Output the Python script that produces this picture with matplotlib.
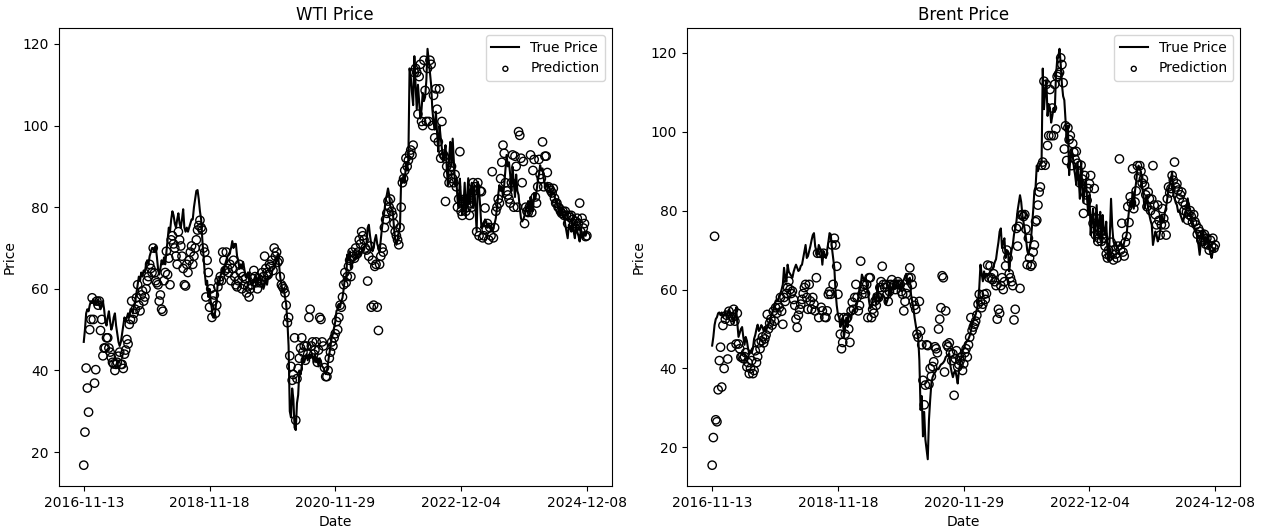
import numpy as np
import matplotlib
matplotlib.use("Agg")
import matplotlib.pyplot as plt

tick_labels = ["2016-11-13", "2018-11-18", "2020-11-29", "2022-12-04", "2024-12-08"]

wti_true = [
    47, 50, 54, 55, 54.5, 56, 57, 56.5, 57.5, 56, 57, 56.5, 57.5, 56, 55, 56, 57, 55, 52, 51,
    53, 54.5, 52, 50, 51, 53, 54, 51, 49, 47, 46, 47, 49, 51, 53, 52, 53, 54, 53, 55,
    55, 54, 56, 57, 59, 61, 63, 62, 64, 63, 64.5, 64, 66, 67, 66, 68, 69, 70, 70, 69,
    70.5, 68, 65, 63.5, 65, 67, 66, 67.7, 66, 69, 72, 75, 74, 77, 79, 78, 76, 75, 77, 78.5,
    76, 75, 77, 79.5, 75, 74, 75, 74, 75, 76, 77, 77, 80, 82, 84, 84.2, 82, 79, 77, 72,
    68, 64, 61, 62, 58, 60, 57, 55, 53, 52.9, 55, 58, 62, 61, 63, 64, 65, 64, 66, 67,
    68, 68.5, 69, 70, 71.7, 70, 71, 71, 68, 67, 64.9, 66, 65, 66.6, 65, 63, 62.7, 64, 64, 62,
    61.5, 61, 62, 63, 62.5, 61, 63, 63.5, 62, 61, 60, 61, 62.5, 61, 63, 62.5, 63, 64, 64.9, 65,
    66, 66.8, 68.5, 66, 63, 61, 59.4, 60, 58, 56.2, 52, 46, 30, 28.5, 35.6, 33, 26, 25.4, 32, 34,
    40, 39, 41, 43.2, 42, 43, 44, 42.5, 43.9, 43, 44, 43.5, 42, 44, 42, 43, 41, 43, 42, 41,
    40.7, 40, 39.1, 40, 42, 43.9, 46, 48, 49, 50.5, 52, 54.6, 55, 56.2, 55.5, 57, 57.8, 60, 62.7, 62,
    68.4, 67, 69.2, 65, 66, 66.8, 67, 68, 67.5, 68.5, 69.2, 68, 69, 70, 69.5, 70.8, 71, 74.9, 75.7, 73,
    71, 69.2, 70, 72, 73.2, 71, 70, 69.2, 72, 75, 77.3, 79, 81.8, 83, 84.6, 83, 80, 79.5, 78.9, 75,
    72, 70.8, 72, 74, 75, 87.1, 86, 88, 86, 91.1, 89, 92, 114, 112, 108, 105, 117, 110, 104, 110,
    106, 101.7, 104, 108, 106, 107, 111, 118.8, 116, 113, 110, 104, 101, 99, 103.4, 98, 93.6, 100, 97, 94.4,
    91.1, 93, 95.2, 90, 85.4, 92, 96, 90, 96.8, 91, 85.4, 87, 82, 79.8, 87, 82, 78.2, 80, 86, 79,
    82, 87.1, 81, 84, 86, 79.8, 85.4, 80, 74.1, 86.2, 84.6, 80, 74.9, 76, 75.5, 77, 76.5, 75, 76, 74.9,
    75.5, 74.1, 75, 76, 77.3, 80, 83, 85.4, 84, 85, 82.5, 85.4, 89, 92.8, 90, 91, 88, 83.9, 89.9, 86,
    82.5, 88, 84, 83, 79.8, 77.3, 76.5, 77, 78, 79, 80, 81.5, 78, 82.5, 80, 79, 83.5, 82, 84, 86.3,
    88, 90.3, 89, 89.5, 87, 85.4, 85, 86, 85, 84.6, 82.5, 84, 83.5, 83, 80.9, 81.5, 80, 78.2, 80, 79,
    77.5, 78, 75.7, 74, 72.4, 75.7, 75, 74, 77, 74, 72.4, 75.7, 74, 73, 71.6, 74.9, 73, 72.4, 74, 73,
    74,
]

wti_pred = [
    16.8, 24.9, 40.6, 35.7, 29.8, 50, 52.5, 57.8, 52.5, 36.9, 40.2, 57, 56, 57, 49.8, 52.5, 43.6, 45.5, 45.5, 48,
    48, 45.5, 44.5, 43.2, 42, 41.6, 40, 41.5, 42, 43.5, 44.5, 41.5, 41.5, 40.5, 44, 45, 47.6, 46.5, 51.3, 52.5,
    57, 52.5, 54, 55, 57.8, 61, 56, 54.6, 58.5, 59.5, 57, 58, 60, 62, 63, 66, 65, 64, 70, 63.9,
    62, 61.5, 61, 57, 58.5, 55, 54.5, 62, 64, 69.2, 63.5, 67.5, 61, 72, 73, 71, 70, 68, 66, 74,
    72, 70.5, 68, 65, 61, 60.7, 66, 64, 67, 69, 70.5, 66, 68, 70, 72, 74.4, 75.5, 76.8, 75, 74.4,
    70, 69, 58, 67, 64, 55.5, 60, 53, 57, 58.5, 54, 56, 60.5, 62, 63, 62, 69, 67, 64.5, 69,
    65, 64, 66, 62, 65, 67, 63, 61, 60.5, 62, 66, 64, 60, 63, 61, 62.5, 59, 60.5, 58, 60,
    61, 62.5, 64.5, 63, 61.5, 60, 62.5, 61.5, 62, 64, 63, 68, 65, 64, 63.5, 66, 65.5, 67, 64.5, 70,
    68, 69, 66.5, 67, 63, 61, 60.5, 60, 59, 56, 51.7, 53, 43.6, 41, 37.6, 39, 48, 27.8, 38, 40.5,
    43, 45.5, 48, 44.5, 46, 42.5, 46, 44, 53, 55, 46, 47, 44, 45, 47, 42, 45, 53, 52.5, 47,
    46, 40.7, 38.5, 38.5, 40, 43, 44.5, 47, 46, 48, 49, 52, 50, 53, 56, 55.5, 58, 61, 64, 61.5,
    63, 65.5, 67, 63, 69, 68, 67.5, 70, 68.5, 69, 72, 71, 74, 73, 72, 70, 69.5, 61.9, 68, 70.5,
    55.5, 67, 56, 65.5, 66, 55.5, 49.8, 66, 68, 70, 69, 75, 77, 78.5, 81.5, 80, 82, 79, 78, 76,
    74, 73, 72, 70.8, 75, 80, 86, 87, 89, 92, 90, 91.5, 93, 94, 92.8, 95.2, 113, 114, 113, 102.8,
    112, 115, 101, 100, 116, 108.6, 101, 114, 101, 116, 115, 100, 107.4, 97, 109, 104, 96, 109, 92, 101,
    93, 92.5, 81.4, 90, 88, 86, 89, 90, 87, 86, 88, 85, 80, 82, 93.6, 79, 78, 81, 82, 79,
    80, 82, 78, 81, 80, 86, 84, 85, 74, 86, 73, 84, 83.8, 72.5, 73, 79.8, 74.5, 76, 72, 75,
    73, 88.7, 72.5, 75, 79, 80, 82, 81, 87, 91, 95.2, 93.2, 86, 84, 83, 82, 81, 86, 92.8, 80,
    92.5, 90, 80, 98.5, 97.6, 92, 86, 91.2, 76, 80, 79, 78.7, 80, 92.8, 78.7, 89, 91.7, 82.5, 81, 85,
    91.7, 88, 87, 96, 85, 92.5, 92.5, 88.5, 85, 84.6, 84, 83.5, 84.6, 82.2, 81, 81, 80, 79.8, 79, 78.5,
    79, 78, 79, 78, 76, 78, 77.5, 78, 77, 76, 75, 76.5, 77.3, 76, 81, 74, 77.3, 74.9, 76, 72.8,
    73,
]

brent_true = [
    45.8, 48, 51, 52.5, 53, 54, 54.2, 53.5, 54.2, 53, 53.5, 54.5, 53, 54, 55, 53.5, 54, 53, 51.5, 53,
    55.4, 51.5, 48, 49, 50, 50.5, 48, 46, 48, 47, 45, 43.7, 44.5, 44, 45, 47.5, 48.5, 50, 51.1, 49.5,
    50, 51, 50.5, 49.5, 50.5, 49.5, 50.5, 51.2, 52, 53, 54, 55, 56, 57.1, 57.5, 57, 58.5, 59, 60, 61.3,
    65.5, 63, 62, 66.3, 64.5, 64, 63.5, 63, 64.5, 65.5, 66.3, 65.5, 64.7, 65, 66, 66.3, 68, 69.7, 71.3, 68,
    68.5, 69.7, 71, 72.5, 73.8, 74.3, 71, 69.7, 68.8, 71.3, 70.5, 69.7, 66.3, 69.7, 68.5, 68, 70, 72, 74.3, 74,
    70.5, 68, 65.5, 59.6, 56, 53.7, 52.9, 50.5, 51.5, 52.9, 47.9, 50.5, 52.9, 50.5, 54, 53.5, 52.9, 54.4, 55, 54.5,
    55.2, 56.5, 58, 59.6, 61, 63.8, 63, 62.1, 63, 61.5, 59.6, 57, 55.2, 56, 57, 58.8, 57.5, 56.2, 61, 58.5,
    57, 58, 58.8, 58.5, 58, 56.2, 57, 58, 60.5, 58.8, 60, 61.3, 61, 60.5, 61.3, 62.1, 61.3, 60.5, 59.6, 62.1,
    62.5, 63.1, 64, 61.3, 62.5, 63, 58.8, 57, 55.4, 52.9, 51, 49, 47.9, 42, 29.5, 33, 22.8, 29, 22, 19.5,
    17, 27, 32, 36.2, 37.8, 38.5, 39, 39.5, 40, 39.8, 40.5, 41, 41.2, 41.5, 42, 42.9, 43.2, 43.5, 43.7, 40.5,
    39, 37.8, 39, 39.5, 38, 36.2, 39.5, 41, 42.9, 44.5, 45, 46, 46.6, 47, 47.5, 48.3, 49.5, 51.2, 52, 53,
    53.7, 55, 57, 60.5, 66.3, 64, 62.1, 64.6, 63, 64, 63.5, 63.8, 64.5, 65, 65.2, 66, 67, 67.7, 70, 72,
    74.7, 75.5, 70.5, 72, 73, 68, 70, 69.7, 64.6, 68, 70, 71.3, 74, 75.5, 77.2, 80, 82, 83.9, 82.2, 78.9,
    77, 75, 73, 70, 68.8, 70.5, 72, 76, 80, 85, 86, 91.4, 90, 91.4, 92, 92, 116, 105.7, 110, 113,
    104, 107, 106, 102.3, 104, 106, 105, 114, 118, 119, 121, 117, 112, 109, 108, 103, 97.3, 101.5, 89, 93,
    95.7, 94, 91, 89, 86.5, 92.3, 88, 83, 92.3, 86, 82, 86.5, 88, 83, 78.9, 84, 73.8, 78, 80.5, 72.2,
    77, 81.4, 73.8, 77, 79.7, 71.3, 78.9, 75, 73.8, 77.2, 70, 67.2, 73.8, 83, 76, 72.2, 71.3, 72, 70.5, 71,
    71.3, 72, 71, 70.5, 72, 73, 73.8, 77.2, 80, 82.2, 81, 84.8, 80.5, 85, 87.3, 90.6, 91.4, 90.6, 89.8, 86,
    83.9, 80.5, 82, 83.9, 80.5, 78.9, 77.5, 76.4, 71.3, 73, 74.7, 73.9, 72.2, 73, 74.7, 78.9, 77.5, 77.2, 79.7, 81,
    83.1, 85.6, 86.4, 88, 89.8, 83.9, 83.1, 82, 81.4, 79.7, 80, 78.9, 78, 77.2, 78.5, 79.7, 80.5, 83.1, 81, 80.5,
    78, 77, 76.4, 74.7, 75.5, 73, 71.3, 68.8, 72, 73.9, 75.2, 71.3, 72, 73, 73.9, 70.5, 69, 68, 69.7, 70.5,
    69.7,
]

brent_pred = [
    15.5, 22.5, 73.5, 27, 26.5, 34.6, 42, 45.4, 35.3, 50.9, 40, 52.5, 53.5, 42.4, 54.5, 52, 45.4, 53, 55, 52,
    46.2, 54, 46.2, 45, 42.9, 43, 42.5, 43, 44, 40.4, 41.5, 38.7, 40, 42, 38.7, 39.5, 44.5, 41.5, 43, 46.5,
    45, 47, 48, 46.5, 47.5, 48.5, 53.7, 50, 51.5, 52.5, 51, 54.5, 52, 55.4, 54, 56, 55.4, 58, 54.5, 51.2,
    58, 57, 59, 60.5, 62.1, 60, 59, 59.6, 57.5, 56, 52.5, 50.4, 53.5, 55, 56.3, 57.5, 59, 60.5, 61.3, 58,
    55, 61.3, 57.1, 55, 58, 56.3, 54.6, 63, 69.2, 52.9, 69.2, 55.5, 54.6, 69.2, 53, 52.9, 54.6, 58.8, 59.5, 58.8,
    71.3, 61.3, 73, 71.3, 65.9, 58.8, 52.9, 48.7, 45, 46.6, 52.9, 48.7, 52.5, 52.9, 50, 46.6, 54.6, 56.8, 55, 58,
    61.3, 58, 54.6, 56, 67.2, 58.8, 60, 61.3, 59, 61.3, 52.9, 63, 63, 52.9, 55, 54, 57.1, 56, 58.2, 58,
    60.5, 62, 65.9, 61.3, 60.5, 61.3, 58.8, 57, 59.5, 61.3, 62.5, 61, 61.3, 60, 61.3, 62, 61.3, 61.3, 59.5, 58.8,
    54.6, 57, 59, 60.5, 63, 65.5, 63, 61.3, 57, 56, 55, 48.7, 47.9, 57, 49.5, 46, 37, 30.8, 35.8, 46,
    45.8, 36, 40, 38, 40.5, 41.7, 45.5, 45, 44, 50, 52.5, 55.4, 63.5, 63, 39.1, 54.6, 46, 45.5, 46.5, 44,
    42, 43.7, 33.2, 42.5, 44.5, 40.4, 41, 42, 42.9, 39.5, 41.2, 44, 45, 42.9, 46, 47.9, 52.9, 49.6, 50.5, 51.2,
    52, 53.5, 56.3, 58.8, 57, 55.4, 56.3, 58.8, 57.5, 59, 66.2, 63, 66, 63, 62.5, 64, 62, 61, 52.5, 55,
    54, 61, 63, 60, 62, 66, 70, 68, 64, 63, 62, 61, 52.3, 55, 75.5, 71, 76, 60.3, 78.9, 79,
    78.5, 79, 75.3, 66.3, 73, 68, 65.9, 66.3, 69.5, 71.3, 77.2, 77.6, 81.4, 84.7, 86, 91.5, 92.3, 112.8, 91.5, 112,
    96.5, 99, 110.7, 99, 106, 99, 112, 100.7, 114, 114.5, 115, 118.7, 117, 112.4, 95.6, 101.5, 92.7, 101, 98, 99,
    91.4, 97, 94.8, 93, 95, 92, 90, 87, 91.5, 88, 79.3, 88.9, 84, 82.6, 85.6, 86.8, 88.9, 80, 76.8, 85.6,
    73.8, 78, 72.2, 73, 74.5, 72.2, 74, 73, 71, 69, 68, 70, 68.5, 72, 69, 67.5, 70, 69, 68, 71,
    93.1, 70, 76.8, 69.5, 68.5, 72, 73.5, 81, 77, 83.5, 82, 90.6, 80.5, 82.2, 85, 91.4, 88.5, 91.4, 90, 87,
    88, 86.4, 84, 81, 84.7, 83, 80, 82.9, 91.4, 81.4, 79, 76.4, 81.4, 77.5, 73.8, 76.4, 80.5, 78, 76.4, 73.8,
    83, 86, 84.5, 85.6, 88.9, 87.7, 92.3, 86, 86.8, 85.2, 83, 84, 84.7, 82.2, 80, 81.4, 79.7, 77.6, 79, 80,
    78.5, 77, 79, 77.2, 76.4, 74, 75.5, 74.7, 72.5, 73.9, 72.2, 74, 71.5, 73, 71.3, 70, 72.5, 71, 73, 70.5,
    71.3,
]

titles = ["WTI Price", "Brent Price"]
true_series = [wti_true, brent_true]
pred_series = [wti_pred, brent_pred]

W, H = 1261, 531
fig = plt.figure(figsize=(W / 100, H / 100), dpi=100)
lefts = [58.6, 687]
axes_w = 553.4
top, bottom = 28, 486

for k in range(2):
    ax = fig.add_axes([lefts[k] / W, 1 - bottom / H, axes_w / W, (bottom - top) / H])
    t = true_series[k]
    p = pred_series[k]
    ax.plot(np.arange(len(t)), t, color="black", label="True Price")
    ax.scatter(np.arange(len(p)), p, facecolors="none", edgecolors="black", label="Prediction")
    pos = np.arange(0, len(t), 105)[:len(tick_labels)]
    ax.set_xticks(pos)
    ax.set_xticklabels(tick_labels)
    ax.set_title(titles[k])
    ax.set_xlabel("Date")
    ax.set_ylabel("Price")
    ax.legend(loc="upper right", markerscale=0.6)

fig.savefig("out.png", dpi=100)
